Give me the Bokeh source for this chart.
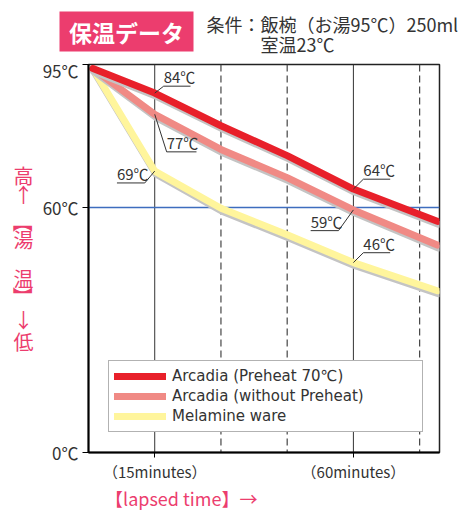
import math
from bokeh.plotting import figure
from bokeh.layouts import row, column
from bokeh.models import (Span, Legend, LegendItem, FixedTicker, Range1d, LinearAxis)
from bokeh.core.properties import value
from bokeh.embed import file_html
from bokeh.resources import INLINE

# ---------------- data ----------------
minutes = [1, 15, 30, 45, 60, 79]
preheat = [94, 88, 80, 72.7, 64.5, 56.6]
no_preheat = [94, 82.8, 74.2, 67.3, 59.4, 50.8]
melamine = [94, 68.9, 59.8, 53.3, 46.5, 39.6]
series_names = ["Arcadia (Preheat 70℃)", "Arcadia (without Preheat)", "Melamine ware"]

y_ticks = [0, 60, 95]
y_tick_labels = ["0℃", "60℃", "95℃"]
x_ticks = [15, 60]
x_tick_labels = ["（15minutes）", "（60minutes）"]
dashed_minutes = [30, 45, 75]
ref_temp = [60]

callout_minutes = [15, 15, 15, 60, 60, 60]
callout_series = [0, 1, 2, 0, 1, 2]
callout_labels = ["84℃", "77℃", "69℃", "64℃", "59℃", "46℃"]

title_text = "保温データ"
cond_lines = ["条件：飯椀（お湯95℃）250ml", "室温23℃"]
y_title_chars = ["高", "↑", "【", "湯", "温", "】", "↓", "低"]
x_title = "【lapsed time】→"

# ---------------- layout / style ----------------
FONT = "Noto Sans CJK JP"
PINK = "#EC3D6E"
TXT = "#333333"
colors = ["#E8202A", "#F08A85", "#FFF59C"]
shadow_color = "#C4C4C4"

PAGE_W, PAGE_H = 462, 513
LEFT_W = 39          # left strip (vertical title)
HEAD_H = 57          # header strip
ML, MR, MT, MB = 47, 15, 7, 56
FRAME_H = 393
MAIN_W, MAIN_H = 418 - (LEFT_W - 36), MT + FRAME_H + MB
X_MAX, Y_MAX = 79.5, 95
X_TITLE_AT = 21      # where the x title is centred, in axis units
ppm = (MAIN_W - ML - MR) / X_MAX
ppd = FRAME_H / Y_MAX


def strip(w, h, xr, yr, **borders):
    f = figure(width=w, height=h, x_range=Range1d(*xr), y_range=Range1d(*yr),
               x_axis_type=None, y_axis_type=None, output_backend="svg",
               toolbar_location=None, min_border=0, **borders)
    f.outline_line_color = None
    f.background_fill_color = "white"
    f.border_fill_color = "white"
    f.grid.visible = False
    return f


# callout offsets in pixels: leader dx, leader dy (down +), underline length (signed)
callout_layout = [(9, -7, 27), (12, 38, 30), (-10, 12, -28),
                  (10, -10, 27), (-15, 21, -28), (10, -10, 27)]

p = figure(width=MAIN_W, height=MAIN_H, x_range=Range1d(0, X_MAX), y_range=Range1d(0, Y_MAX),
           output_backend="svg", toolbar_location=None,
           min_border_left=ML, min_border_right=MR, min_border_top=MT, min_border_bottom=MB)
p.xgrid.visible = False
p.ygrid.visible = False
p.outline_line_color = "#222222"
p.outline_line_width = 1.5
p.background_fill_color = "white"
p.border_fill_color = "white"

# axes
p.yaxis.ticker = FixedTicker(ticks=y_ticks)
p.yaxis.major_label_overrides = {t: l for t, l in zip(y_ticks, y_tick_labels)}
p.xaxis.ticker = FixedTicker(ticks=x_ticks)
p.xaxis.major_label_overrides = {t: l for t, l in zip(x_ticks, x_tick_labels)}
for ax in (p.xaxis[0], p.yaxis[0]):
    ax.axis_line_color = "black"
    ax.axis_line_width = 2
    ax.major_tick_line_color = "black"
    ax.major_tick_line_width = 1
    ax.major_tick_in = 0
    ax.minor_tick_line_color = None
    ax.major_label_text_font = FONT
    ax.major_label_text_color = TXT
p.yaxis.major_tick_out = 6
p.yaxis.major_label_standoff = 4
p.yaxis.major_label_text_font_size = "17px"
p.xaxis.major_tick_out = 5
p.xaxis.major_label_standoff = 3
p.xaxis.major_label_text_font_size = "15px"

# x title carried by a second (line-less) bottom axis
title_axis = LinearAxis(ticker=FixedTicker(ticks=[X_TITLE_AT]),
                        major_label_overrides={X_TITLE_AT: x_title},
                        axis_line_color=None, major_tick_line_color=None,
                        minor_tick_line_color=None, major_tick_out=0, major_tick_in=0,
                        major_label_standoff=0, major_label_text_font=FONT,
                        major_label_text_font_size="18px", major_label_text_color=PINK)
p.add_layout(title_axis, "below")

# grid lines
for m in x_ticks:
    p.add_layout(Span(location=m, dimension="height", line_color="#333333",
                      line_width=1, level="underlay"))
for m in dashed_minutes:
    p.add_layout(Span(location=m, dimension="height", line_color="#444444",
                      line_width=1.2, line_dash="7 4", level="underlay"))
for t in ref_temp:
    p.add_layout(Span(location=t, dimension="width", line_color="#3D6DBE",
                      line_width=1.5, level="underlay"))

# lines with shadows
all_series = [preheat, no_preheat, melamine]
renderers = [None, None, None]
sdx, sdy = 1.0 / ppm, 3.0 / ppd
for i in (2, 1, 0):
    ys = all_series[i]
    p.line([m + sdx for m in minutes], [v - sdy for v in ys], line_color=shadow_color,
           line_width=7, line_join="round", line_cap="round")
    renderers[i] = p.line(minutes, ys, line_color=colors[i], line_width=7,
                          line_join="round", line_cap="round")

# callouts
lx0, ly0, lx1, ly1, ux0, ux1, tx, ty = [], [], [], [], [], [], [], []
for m, s, (dx, dy, ul) in zip(callout_minutes, callout_series, callout_layout):
    yv = all_series[s][minutes.index(m)]
    ex = m + dx / ppm
    ey = yv - dy / ppd
    lx0.append(m); ly0.append(yv); lx1.append(ex); ly1.append(ey)
    ux0.append(ex); ux1.append(ex + ul / ppm)
    tx.append(min(ex, ex + ul / ppm)); ty.append(ey)
p.segment(x0=lx0, y0=ly0, x1=lx1, y1=ly1, line_color=TXT, line_width=1)
p.segment(x0=ux0, y0=ly1, x1=ux1, y1=ly1, line_color=TXT, line_width=1)
p.text(x=tx, y=ty, text=callout_labels, text_font=value(FONT), text_font_size="15px",
       text_color=TXT, text_baseline="bottom", text_align="left", y_offset=1)

# legend
legend = Legend(items=[LegendItem(label=series_names[i], renderers=[renderers[i]]) for i in range(3)],
                location=(20, 20), margin=0, padding=5, spacing=0,
                glyph_width=52, glyph_height=20, label_height=20, label_standoff=6, label_width=245,
                label_text_font="DejaVu Sans", label_text_font_size="15px", label_text_color=TXT,
                border_line_color="#666666", border_line_width=1,
                background_fill_color="white", background_fill_alpha=1.0)
p.add_layout(legend)

# ---------------- header strip (page coords): title box + conditions ----------------
head = strip(PAGE_W, HEAD_H, (0, PAGE_W), (HEAD_H, 0))
head.quad(left=[59], right=[193], top=[11], bottom=[51], fill_color=PINK, line_color=None)
head.text(x=[126], y=[31], text=[title_text], text_font=value(FONT), text_font_size="23px",
          text_font_style="bold", text_color="white", text_align="center", text_baseline="middle")
head.text(x=[206, 260], y=[23, 43], text=cond_lines, text_font=value(FONT),
          text_font_size="18px", text_color=TXT, text_align="left", text_baseline="middle")

# ---------------- left strip (page coords): vertical title ----------------
FT, FB = HEAD_H + MT, HEAD_H + MT + FRAME_H
left = strip(LEFT_W, MAIN_H, (0, LEFT_W), (FB, FT), min_border_top=MT, min_border_bottom=MB)
y_title_pos = [176, 196, 224, 241, 281, 299, 322, 345]
y_title_rot = [0, 0, -math.pi / 2, 0, 0, -math.pi / 2, 0, 0]
left.text(x=[23] * len(y_title_chars), y=y_title_pos, text=y_title_chars, angle=y_title_rot,
          text_font=value(FONT), text_font_size="20px", text_color=PINK,
          text_align="center", text_baseline="middle")

layout = column(head, row(left, p, spacing=0), spacing=0)
open("out.html", "w").write(file_html(layout, INLINE))
